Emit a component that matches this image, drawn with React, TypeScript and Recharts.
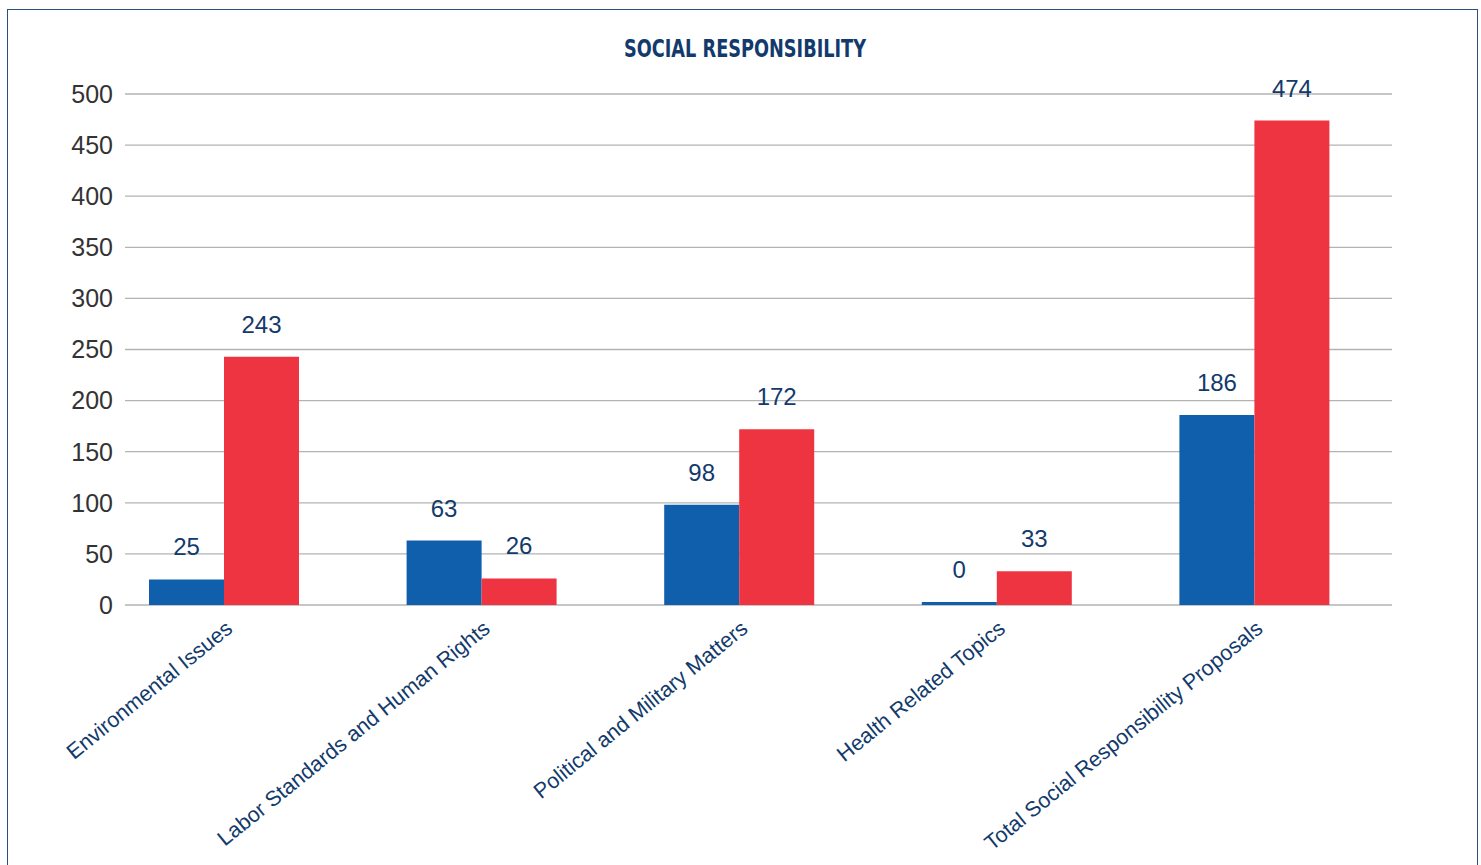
import React from "react";
import { BarChart, Bar, XAxis, YAxis, CartesianGrid, LabelList } from "recharts";

const categories = [
  "Environmental Issues",
  "Labor Standards and Human Rights",
  "Political and Military Matters",
  "Health Related Topics",
  "Total Social Responsibility Proposals",
];
const blueValues = [25, 63, 98, 0, 186];
const redValues = [243, 26, 172, 33, 474];
const yTicks = [0, 50, 100, 150, 200, 250, 300, 350, 400, 450, 500];

const data = categories.map((name, i) => ({ name, blue: blueValues[i], red: redValues[i] }));

const FONT = "'Liberation Sans', Arial, Helvetica, sans-serif";
const NAVY = "#123a6c";

function AngledTick(props: any) {
  const { x, y, payload } = props;
  return (
    <g transform={`translate(${x + 10},${y + 18}) rotate(-39)`}>
      <text x={0} y={0} textAnchor="end" fill={NAVY} fontSize={21.5} fontFamily={FONT}>
        {payload.value}
      </text>
    </g>
  );
}

export default function App() {
  return (
    <div style={{ position: "absolute", left: 0, top: 0, width: 1481, height: 865, overflow: "hidden", background: "#fff" }}>
      {/* frame, bottom edge runs off the page */}
      <div style={{ position: "absolute", left: 7, top: 9, width: 1469, height: 900, border: "1px solid #2b4f7e" }} />
      <svg width={1481} height={80} style={{ position: "absolute", left: 0, top: 0 }}>
        <text
          x={745}
          y={57}
          textAnchor="middle"
          fill={NAVY}
          fontSize={25}
          fontWeight="bold"
          fontFamily="'Liberation Sans Narrow', 'DejaVu Sans Condensed', 'Liberation Sans', sans-serif"
          textLength={242}
          lengthAdjust="spacingAndGlyphs"
        >
          SOCIAL RESPONSIBILITY
        </text>
      </svg>
      <div style={{ position: "absolute", left: 0, top: 0 }}>
        <BarChart
          width={1481}
          height={865}
          data={data}
          margin={{ top: 94, right: 89, bottom: 0, left: 0 }}
          barSize={75}
          barGap={0}
        >
          <CartesianGrid horizontal vertical={false} stroke="#b3b3b3" strokeWidth={1.3} />
          <XAxis
            dataKey="name"
            axisLine={false}
            tickLine={false}
            interval={0}
            padding={{ left: -30, right: 9 }}
            tick={<AngledTick />}
            height={260}
          />
          <YAxis
            width={125}
            domain={[0, 500]}
            ticks={yTicks}
            interval={0}
            axisLine={false}
            tickLine={false}
            tickMargin={6}
            tick={{ fill: "#333", fontSize: 25, fontFamily: FONT }}
          />
          <Bar dataKey="blue" fill="#0f5fad" isAnimationActive={false} minPointSize={3}>
            <LabelList dataKey="blue" position="top" offset={24} fill={NAVY} fontSize={24} fontFamily={FONT} />
          </Bar>
          <Bar dataKey="red" fill="#ee3440" isAnimationActive={false}>
            <LabelList dataKey="red" position="top" offset={24} fill={NAVY} fontSize={24} fontFamily={FONT} />
          </Bar>
        </BarChart>
      </div>
    </div>
  );
}
